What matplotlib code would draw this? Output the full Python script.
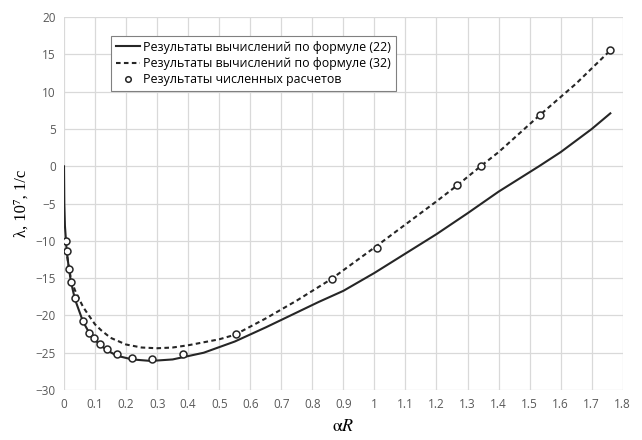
import matplotlib
matplotlib.use('Agg')
import matplotlib.pyplot as plt

plt.rcParams['mathtext.fontset'] = 'stix'

# formula (22), solid line
x22 = [0, 0.001, 0.003, 0.0064, 0.0087, 0.016, 0.0225, 0.035, 0.061, 0.082, 0.1, 0.12,
       0.14, 0.17, 0.22, 0.28, 0.35, 0.45, 0.55, 0.65, 0.75, 0.82, 0.9, 1.0, 1.1, 1.2,
       1.3, 1.4, 1.53, 1.6, 1.7, 1.76]
y22 = [0, -5, -8, -10, -11.4, -13.8, -15.5, -17.8, -20.8, -22.4, -23.3, -24.1,
       -24.7, -25.4, -25.9, -26.1, -25.9, -25.0, -23.5, -21.6, -19.6, -18.2, -16.7, -14.3, -11.7, -9.1,
       -6.3, -3.4, 0.0, 1.9, 5.0, 7.1]

# formula (32), dashed line
x32 = [0.005, 0.01, 0.016, 0.022, 0.035, 0.05, 0.062, 0.08, 0.1, 0.12, 0.15, 0.2, 0.25,
       0.3, 0.35, 0.4, 0.45, 0.5, 0.55, 0.65, 0.75, 0.86, 1.0, 1.1, 1.2, 1.267, 1.342,
       1.4, 1.532, 1.65, 1.76]
y32 = [-10, -12, -13.6, -15.0, -16.6, -17.9, -18.9, -20.0, -21.2, -22.0, -23.0, -23.9, -24.3,
       -24.4, -24.3, -24.0, -23.6, -23.2, -22.6, -20.4, -18.0, -15.15, -10.9, -7.8, -4.7, -2.55, 0.0,
       1.9, 6.84, 11.1, 15.55]

# numerical results, open circles
xnum = [0.0064, 0.0087, 0.016, 0.0225, 0.035, 0.061, 0.082, 0.097, 0.116, 0.137, 0.17,
        0.218, 0.283, 0.383, 0.554, 0.862, 1.009, 1.267, 1.342, 1.532, 1.76]
ynum = [-10.0, -11.4, -13.8, -15.5, -17.7, -20.7, -22.3, -23.0, -23.8, -24.5, -25.2,
        -25.7, -25.9, -25.2, -22.5, -15.15, -10.9, -2.55, 0.04, 6.84, 15.55]

labels = ['Результаты вычислений по формуле (22)',
          'Результаты вычислений по формуле (32)',
          'Результаты численных расчетов']

fig = plt.figure(figsize=(6.42, 4.4), dpi=100)
ax = fig.add_axes([0.0997, 0.1136, 0.8703, 0.8474])

ax.plot(x22, y22, '-', color='#262626', lw=1.5, label=labels[0])
ax.plot(x32, y32, '--', color='#262626', lw=1.5, dashes=(2.2, 1.6), label=labels[1])
ax.plot(xnum, ynum, 'o', ms=5, mfc='white', mec='#262626', mew=1.1, label=labels[2])

ax.set_xlim(0, 1.8)
ax.set_ylim(-30, 20)
ax.set_xticks([i / 10 for i in range(19)])
ax.set_xticklabels(['0'] + ['%g' % (i / 10) for i in range(1, 19)])
ax.set_yticks(range(-30, 21, 5))
ax.grid(True, color='#d9d9d9', lw=0.9)
ax.set_axisbelow(True)
for s in ax.spines.values():
    s.set_visible(False)
ax.tick_params(length=0, labelsize=8.5, labelcolor='#595959', pad=6, labelfontfamily='Open Sans')

ax.set_xlabel(r'$\mathrm{\alpha}\mathit{R}$', fontsize=13)
ax.set_ylabel('λ, 10⁷, 1/с', fontsize=12, family=['Liberation Serif', 'DejaVu Serif'])

leg = ax.legend(loc='upper left', bbox_to_anchor=(0.0835, 0.95), fancybox=False,
                edgecolor='#808080', framealpha=1, borderpad=0.4, handlelength=2.0,
                handletextpad=0.2, labelspacing=0.25, borderaxespad=0, markerscale=0.8,
                prop={'family': 'Open Sans', 'size': 8.9})
leg.get_frame().set_linewidth(0.8)

fig.savefig('out.png', dpi=100)
